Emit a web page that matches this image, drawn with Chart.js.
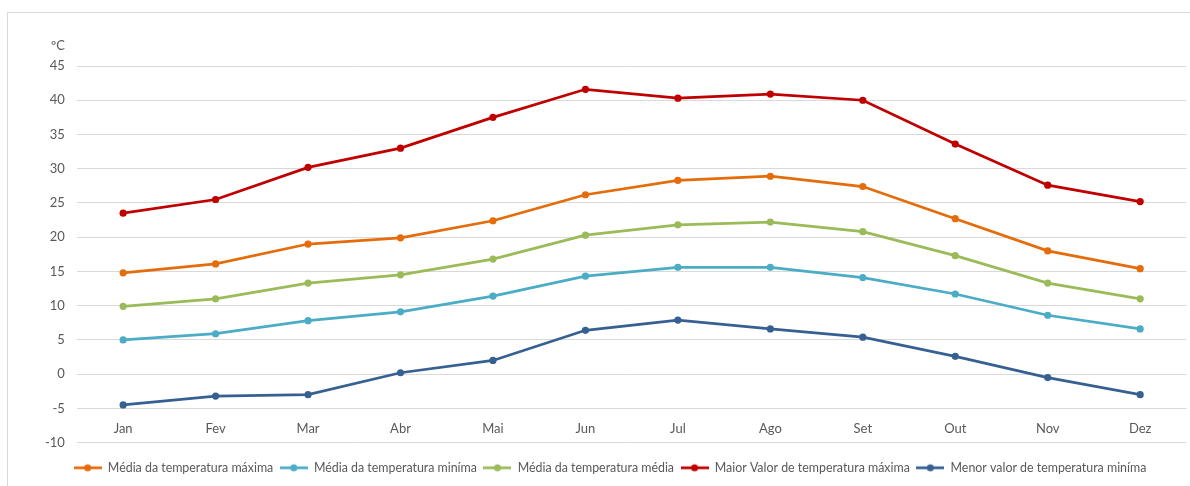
<!DOCTYPE html>
<html>
<head>
<meta charset="utf-8">
<script src="https://cdn.jsdelivr.net/npm/chart.js@4.4.1/dist/chart.umd.min.js"></script>
<style>
    html, body { margin: 0; padding: 0; background: #fff; }
    #moldura { position: absolute; left: 7px; top: 12px; width: 1200px; height: 490px; border: 1px solid #d9d9d9; }
    #wrap { position: absolute; left: 0; top: 0; width: 1190px; height: 486px; }
</style>
</head>
<body>
<div id="moldura"></div>
<div id="wrap"><canvas id="grafico"></canvas></div>
<script>
// Dados
const meses = ['Jan', 'Fev', 'Mar', 'Abr', 'Mai', 'Jun', 'Jul', 'Ago', 'Set', 'Out', 'Nov', 'Dez'];
const mediaMaxima = [14.8, 16.1, 19.0, 19.9, 22.4, 26.2, 28.3, 28.9, 27.4, 22.7, 18.0, 15.4];
const mediaMinima = [5.0, 5.9, 7.8, 9.1, 11.4, 14.3, 15.6, 15.6, 14.1, 11.7, 8.6, 6.6];
const mediaMedia = [9.9, 11.0, 13.3, 14.5, 16.8, 20.3, 21.8, 22.2, 20.8, 17.3, 13.3, 11.0];
const maiorMaxima = [23.5, 25.5, 30.2, 33.0, 37.5, 41.6, 40.3, 40.9, 40.0, 33.6, 27.6, 25.2];
const menorMinima = [-4.5, -3.2, -3.0, 0.2, 2.0, 6.4, 7.9, 6.6, 5.4, 2.6, -0.5, -3.0];
const ticksY = [45, 40, 35, 30, 25, 20, 15, 10, 5, 0, -5, -10];

const fonte = { family: 'Lato', size: 13 };
const cinza = '#595959';

// Ícone da legenda: linha com marcador
function iconeLegenda(cor) {
    const c = document.createElement('canvas');
    c.width = 28;
    c.height = 10;
    const ctx = c.getContext('2d');
    ctx.strokeStyle = cor;
    ctx.lineWidth = 2.75;
    ctx.beginPath();
    ctx.moveTo(0, 5);
    ctx.lineTo(28, 5);
    ctx.stroke();
    ctx.fillStyle = cor;
    ctx.beginPath();
    ctx.arc(14, 5, 3.5, 0, Math.PI * 2);
    ctx.fill();
    return c;
}

function serie(label, data, cor) {
    return {
        label, data,
        borderColor: cor,
        backgroundColor: cor,
        borderWidth: 2.75,
        pointRadius: 3.6,
        pointHoverRadius: 3.6,
        pointBorderWidth: 0,
        tension: 0
    };
}

// Unidade acima do eixo Y
const unidadePlugin = {
    id: 'unidade',
    afterDraw(chart) {
        const y = chart.scales.y;
        const ctx = chart.ctx;
        ctx.save();
        ctx.font = '13px Lato';
        ctx.fillStyle = cinza;
        ctx.textAlign = 'right';
        ctx.textBaseline = 'middle';
        ctx.fillText('ºC', y.right - 12, y.top - 20);
        ctx.restore();
    }
};

new Chart(document.getElementById('grafico'), {
    type: 'line',
    data: {
        labels: meses,
        datasets: [
            serie('Média da temperatura máxima', mediaMaxima, '#E46C0A'),
            serie('Média da temperatura miníma', mediaMinima, '#4BACC6'),
            serie('Média da temperatura média', mediaMedia, '#9BBB59'),
            serie('Maior Valor de temperatura máxima', maiorMaxima, '#C00000'),
            serie('Menor valor de temperatura miníma', menorMinima, '#376092')
        ]
    },
    options: {
        responsive: true,
        maintainAspectRatio: false,
        animation: false,
        layout: { padding: { top: 66, right: 3, bottom: 2, left: 33 } },
        plugins: {
            tooltip: { enabled: false },
            legend: {
                position: 'bottom',
                title: { display: true, text: ' ', font: { size: 1, lineHeight: 1 }, padding: { top: 11.5, bottom: 0 } },
                labels: {
                    usePointStyle: true,
                    pointStyleWidth: 28,
                    padding: 6.5,
                    color: cinza,
                    font: { family: 'Lato', size: 12.4 },
                    generateLabels(chart) {
                        const itens = Chart.defaults.plugins.legend.labels.generateLabels(chart);
                        itens.forEach(it => {
                            it.pointStyle = iconeLegenda(chart.data.datasets[it.datasetIndex].borderColor);
                        });
                        return itens;
                    }
                }
            }
        },
        scales: {
            x: {
                position: { y: -5.2 },
                offset: true,
                grid: { display: false },
                border: { display: false },
                ticks: { color: cinza, font: fonte, padding: 3 }
            },
            y: {
                min: -10,
                max: 45,
                afterBuildTicks(axis) {
                    axis.ticks = ticksY.map(v => ({ value: v }));
                },
                grid: { color: '#d9d9d9', lineWidth: 1, drawTicks: false },
                border: { display: false },
                ticks: { color: cinza, font: fonte, padding: 12 }
            }
        }
    },
    plugins: [unidadePlugin]
});
</script>
</body>
</html>
